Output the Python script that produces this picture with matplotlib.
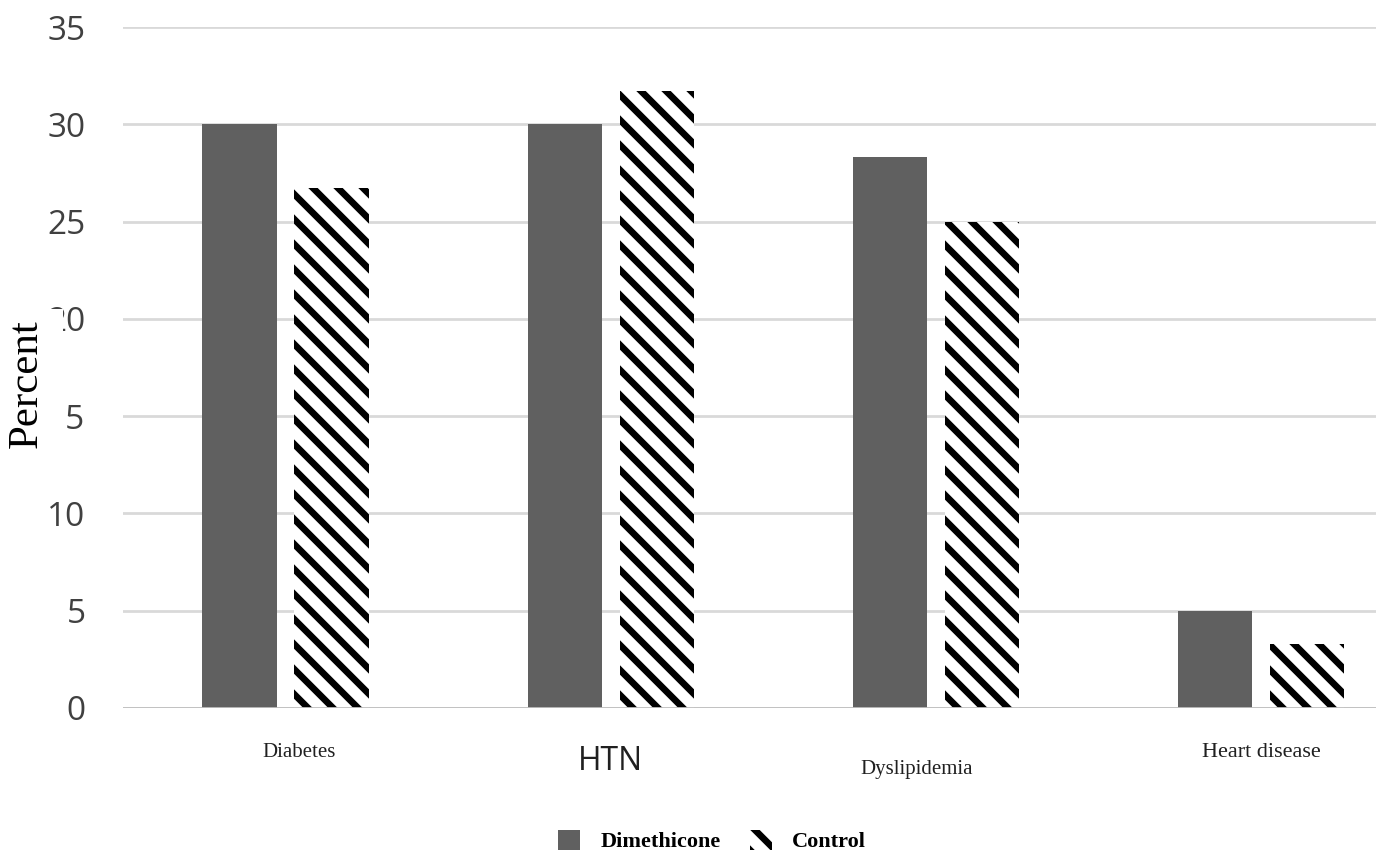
import matplotlib
matplotlib.use("Agg")
import matplotlib.pyplot as plt
from matplotlib.patches import Patch, Rectangle
import numpy as np

categories = ["Diabetes", "HTN", "Dyslipidemia", "Heart disease"]
dimethicone = [30.0, 30.0, 28.3, 5.0]
control = [26.7, 31.7, 25.0, 3.3]
yticks = [0, 5, 10, 15, 20, 25, 30, 35]

# hatch cell is one inch, so a higher dpi gives wider stripes; sizes below are scaled by k
DPI = 150
k = 100 / DPI
plt.rcParams['hatch.linewidth'] = 3.2

W, H = 1376, 853
fig = plt.figure(figsize=(W / DPI, H / DPI), dpi=DPI)
ax = fig.add_axes([123 / W, 1 - 708 / H, 1 - 123 / W, (708 - 27) / H])

x = np.arange(len(categories))
w = 0.228
off = 0.1415
ax.bar(x - off, dimethicone, w, color='#606060', zorder=3)
ax.bar(x + off, control, w, facecolor='white', edgecolor='black', linewidth=0,
       hatch='\\\\', zorder=3)

ax.set_ylim(0, 35)
ax.set_xlim(-0.5, 3.354)
ax.set_yticks(yticks)
ax.set_yticklabels([str(t) for t in yticks], fontfamily='Open Sans', fontsize=24 * k, color='#404040')
ax.tick_params(axis='y', length=0, pad=27 * k)
ax.set_xticks([])
for s in ax.spines.values():
    s.set_visible(False)
ax.grid(axis='y', color='#d9d9d9', linewidth=2 * k, zorder=0)
ax.axhline(0, color='#bfbfbf', linewidth=2 * k, zorder=4)

# category labels (mixed fonts as in the source)
trans = ax.get_xaxis_transform()
lab_style = {
    "Diabetes": dict(dx=0.04, y=-0.065, family='Liberation Serif', size=15),
    "HTN": dict(dx=0.0, y=-0.078, family='Open Sans', size=23),
    "Dyslipidemia": dict(dx=-0.06, y=-0.09, family='Liberation Serif', size=15),
    "Heart disease": dict(dx=0.0, y=-0.065, family='Liberation Serif', size=16),
}
for i, c in enumerate(categories):
    st = lab_style[c]
    ax.text(i + st['dx'], st['y'], c, transform=trans, ha='center', va='center',
            fontfamily=st['family'], fontsize=st['size'] * k, color='#202020')

# the "Percent" label sits over the 20 / 15 tick labels in the source
fig.patches.append(Rectangle((0, 1 - 460 / H), 63 / W, (460 - 309) / H,
                             transform=fig.transFigure, facecolor='white',
                             edgecolor='none', zorder=5))
fig.text(27 / W, 1 - 384 / H, "Percent", rotation=90, ha='center', va='center',
         fontfamily='Liberation Serif', fontsize=31 * k, color='black', zorder=6)

handles = [Patch(facecolor='#606060', edgecolor='none'),
           Patch(facecolor='white', edgecolor='black', linewidth=0, hatch='\\\\')]
fig.legend(handles, ["Dimethicone", "Control"], loc='center', bbox_to_anchor=(712 / W, 1 - 841 / H),
           ncol=2, frameon=False, prop={'family': 'Liberation Serif', 'weight': 'bold', 'size': 16 * k},
           handlelength=1.0, handleheight=1.0, columnspacing=1.3, handletextpad=0.9)

fig.savefig("out.png", dpi=DPI)
